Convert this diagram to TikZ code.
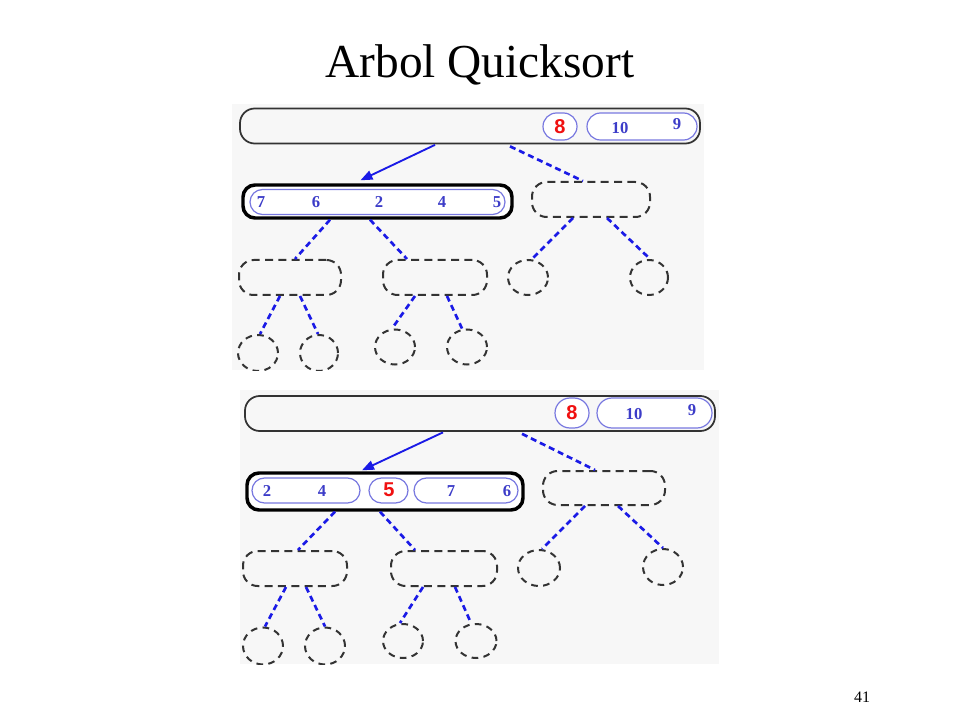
\documentclass[tikz,border=0pt]{standalone}
\usepackage{fontspec}
\setmainfont{Liberation Serif}
\newfontfamily\numsans{Liberation Sans}
\usetikzlibrary{calc,shapes.misc,shapes.geometric,arrows.meta}
\definecolor{panelbg}{HTML}{F7F7F7}
\definecolor{boxline}{HTML}{333333}
\definecolor{lav}{HTML}{7878E0}
\definecolor{numblue}{HTML}{3C3CC8}
\definecolor{linkblue}{HTML}{1A1AE6}
\definecolor{pivred}{HTML}{F01010}
\tikzset{
  panel/.style={fill=panelbg,draw=none},
  bigbox/.style={draw=boxline,line width=1.3pt,rounded corners=11pt,fill=panelbg,inner sep=0pt},
  curbox/.style={draw=black,line width=2.6pt,rounded corners=9pt,fill=white,inner sep=0pt},
  emptybox/.style={draw=boxline,line width=1.5pt,dash pattern=on 6pt off 4pt,rounded corners=11pt,inner sep=0pt},
  emptyleaf/.style={draw=boxline,line width=1.5pt,dash pattern=on 5pt off 4pt,ellipse,inner sep=0pt},
  pill/.style={draw=lav,line width=0.9pt,rounded rectangle,fill=white,inner sep=0pt},
  num/.style={text=numblue,font=\bfseries\fontsize{12.5}{12.5}\selectfont,inner sep=0pt},
  pivot/.style={text=pivred,font=\numsans\bfseries\fontsize{15}{15}\selectfont,inner sep=0pt},
  link/.style={draw=linkblue,line width=1.4pt},
  dlink/.style={draw=linkblue,line width=2pt,dash pattern=on 4.5pt off 3pt},
}
\begin{document}
\begin{tikzpicture}[x=0.75pt,y=-0.75pt]
\useasboundingbox (0,0) rectangle (960,720);
\fill[white] (0,0) rectangle (960,720);
\node[font=\fontsize{35.5}{35.5}\selectfont,anchor=base] (title) at (480,78) {Arbol Quicksort};
\node[font=\fontsize{12}{12}\selectfont,anchor=base] (pageno) at (862,702) {41};

% ---------------- panel 1 ----------------
\begin{scope}
\clip (232,104) rectangle (704,370);
\fill[panel] (232,104) rectangle (704,370);
\node[bigbox,minimum width=460*0.75pt,minimum height=35*0.75pt] (t1) at (470,126) {};
\node[pill,minimum width=34*0.75pt,minimum height=27*0.75pt] (t1piv) at (560,126.5) {};
\node[pivot] (t1pivn) at (560,126.5) {8};
\node[pill,minimum width=110*0.75pt,minimum height=27*0.75pt] (t1r) at (642,126.5) {};
\node[num] (n1a) at (620,128) {10};
\node[num] (n1b) at (677,124) {9};

\node[curbox,minimum width=269*0.75pt,minimum height=33*0.75pt] (c1) at (377.5,201.5) {};
\node[pill,minimum width=255*0.75pt,minimum height=25*0.75pt] (c1p) at (377.5,202) {};
\node[num] (m1) at (261,202) {7};
\node[num] (m2) at (316,202) {6};
\node[num] (m3) at (379,202) {2};
\node[num] (m4) at (442,202) {4};
\node[num] (m5) at (497,202) {5};

\node[emptybox,minimum width=118*0.75pt,minimum height=35*0.75pt] (d1) at (591,199.5) {};
\node[emptybox,minimum width=102*0.75pt,minimum height=35*0.75pt] (g1) at (290,277.5) {};
\node[emptybox,minimum width=104*0.75pt,minimum height=35*0.75pt] (g2) at (435,277.5) {};
\node[emptyleaf,minimum width=40*0.75pt,minimum height=35*0.75pt] (g3) at (528,277.5) {};
\node[emptyleaf,minimum width=38*0.75pt,minimum height=35*0.75pt] (g4) at (649,277.5) {};
\node[emptyleaf,minimum width=40*0.75pt,minimum height=36*0.75pt] (h1) at (258,353) {};
\node[emptyleaf,minimum width=38*0.75pt,minimum height=36*0.75pt] (h2) at (319,353) {};
\node[emptyleaf,minimum width=40*0.75pt,minimum height=35*0.75pt] (h3) at (395,347) {};
\node[emptyleaf,minimum width=40*0.75pt,minimum height=35*0.75pt] (h4) at (467,347) {};

\draw[link,-{Triangle[length=9pt,width=7pt]}] ($(t1.south)+(-35,0.5)$) -- ($(c1.north)+(-17,-3)$);
\draw[dlink] ($(t1.south)+(40,2)$) -- ($(d1.north)+(-8,0)$);
\draw[dlink] ($(c1.south)+(-47.5,0)$) -- ($(g1.north)+(5,0)$);
\draw[dlink] ($(c1.south)+(-7.5,0)$) -- ($(g2.north)+(-28,0)$);
\draw[dlink] ($(d1.south)+(-18,0)$) -- ($(g3.north)+(4,0)$);
\draw[dlink] ($(d1.south)+(16,0)$) -- ($(g4.north)+(-1,-2)$);
\draw[dlink] ($(g1.south)+(-10,0)$) -- ($(h1.north)+(2,0)$);
\draw[dlink] ($(g1.south)+(10,0)$) -- ($(h2.north)+(-1,0)$);
\draw[dlink] ($(g2.south)+(-20,0)$) -- ($(h3.north)+(-3,0)$);
\draw[dlink] ($(g2.south)+(12,0)$) -- ($(h4.north)+(-5,0)$);
\end{scope}

% ---------------- panel 2 ----------------
\begin{scope}
\clip (240,390) rectangle (719,664);
\fill[panel] (240,390) rectangle (719,664);
\node[bigbox,minimum width=470*0.75pt,minimum height=35*0.75pt] (t2) at (480,413.5) {};
\node[pill,minimum width=34*0.75pt,minimum height=30*0.75pt] (t2piv) at (572,413) {};
\node[pivot] (t2pivn) at (572,413) {8};
\node[pill,minimum width=115*0.75pt,minimum height=30*0.75pt] (t2r) at (654.5,413) {};
\node[num] (k1a) at (634,414) {10};
\node[num] (k1b) at (692,410) {9};

\node[curbox,minimum width=276*0.75pt,minimum height=37*0.75pt] (c2) at (385,491.5) {};
\node[pill,minimum width=108*0.75pt,minimum height=25*0.75pt] (c2a) at (306,490.5) {};
\node[pill,minimum width=39*0.75pt,minimum height=25*0.75pt] (c2piv) at (388.5,490.5) {};
\node[pill,minimum width=104*0.75pt,minimum height=25*0.75pt] (c2b) at (466,490.5) {};
\node[num] (q1) at (267,491) {2};
\node[num] (q2) at (322,491) {4};
\node[pivot] (q3) at (389,490) {5};
\node[num] (q4) at (451,491) {7};
\node[num] (q5) at (507,491) {6};

\node[emptybox,minimum width=122*0.75pt,minimum height=34*0.75pt] (d2) at (604,488) {};
\node[emptybox,minimum width=104*0.75pt,minimum height=35*0.75pt] (e1) at (295,568.5) {};
\node[emptybox,minimum width=106*0.75pt,minimum height=35*0.75pt] (e2) at (444,568.5) {};
\node[emptyleaf,minimum width=42*0.75pt,minimum height=36*0.75pt] (e3) at (539,568) {};
\node[emptyleaf,minimum width=40*0.75pt,minimum height=36*0.75pt] (e4) at (663,567) {};
\node[emptyleaf,minimum width=40*0.75pt,minimum height=37*0.75pt] (f1) at (263,646) {};
\node[emptyleaf,minimum width=40*0.75pt,minimum height=37*0.75pt] (f2) at (325,646) {};
\node[emptyleaf,minimum width=40*0.75pt,minimum height=34*0.75pt] (f3) at (403,641) {};
\node[emptyleaf,minimum width=41*0.75pt,minimum height=34*0.75pt] (f4) at (476,641) {};

\draw[link,-{Triangle[length=9pt,width=7pt]}] ($(t2.south)+(-37,0.5)$) -- ($(c2.north)+(-23,-1)$);
\draw[dlink] ($(t2.south)+(42,2)$) -- ($(d2.north)+(-9,0)$);
\draw[dlink] ($(c2.south)+(-50,0)$) -- ($(e1.north)+(3,0)$);
\draw[dlink] ($(c2.south)+(-5,0)$) -- ($(e2.north)+(-29,0)$);
\draw[dlink] ($(d2.south)+(-19,0)$) -- ($(e3.north)+(3,0)$);
\draw[dlink] ($(d2.south)+(14,0)$) -- ($(e4.north)+(0,0)$);
\draw[dlink] ($(e1.south)+(-9,0)$) -- ($(f1.north)+(2,0)$);
\draw[dlink] ($(e1.south)+(11,0)$) -- ($(f2.north)+(0,0)$);
\draw[dlink] ($(e2.south)+(-21,0)$) -- ($(f3.north)+(-3,0)$);
\draw[dlink] ($(e2.south)+(11,0)$) -- ($(f4.north)+(-5,0)$);
\end{scope}
\end{tikzpicture}
\end{document}
